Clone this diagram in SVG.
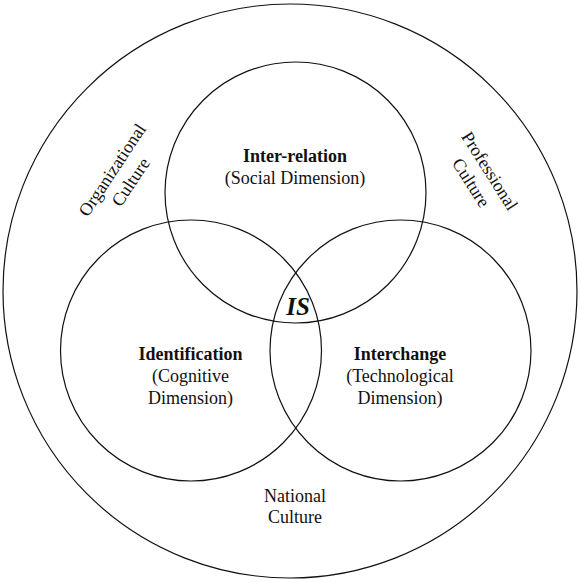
<svg xmlns="http://www.w3.org/2000/svg" width="580" height="582" viewBox="0 0 580 582">
<style>
.c{fill:none;stroke:#111;stroke-width:1.2}
text{font-family:"Liberation Serif","Times New Roman",serif;font-size:18px;fill:#111;text-anchor:middle}
.b{font-weight:bold}
.is{font-weight:bold;font-style:italic;font-size:25px}
</style>
<rect width="580" height="582" fill="#fff"/>
<g id="national">
<circle class="c" cx="290" cy="291" r="287"/>
<text x="295" y="502">National</text>
<text x="295" y="523">Culture</text>
</g>
<g id="organizational" transform="translate(117.3,173.2) rotate(-56.5)">
<text x="0" y="0">Organizational</text>
<text x="0" y="22">Culture</text>
</g>
<g id="professional" transform="translate(484.6,174.1) rotate(57.7)">
<text x="0" y="0">Professional</text>
<text x="0" y="22">Culture</text>
</g>
<g id="interrelation">
<circle class="c" cx="295.5" cy="192.5" r="130.5"/>
<text class="b" x="295" y="162">Inter-relation</text>
<text x="295" y="184">(Social Dimension)</text>
</g>
<g id="identification">
<circle class="c" cx="191" cy="350.5" r="130.5"/>
<text class="b" x="190.5" y="360">Identification</text>
<text x="190.5" y="382">(Cognitive</text>
<text x="190.5" y="404">Dimension)</text>
</g>
<g id="interchange">
<circle class="c" cx="400.5" cy="350.5" r="130.5"/>
<text class="b" x="400" y="360">Interchange</text>
<text x="400" y="382">(Technological</text>
<text x="400" y="404">Dimension)</text>
</g>
<g id="is">
<text class="is" x="298" y="315">IS</text>
</g>
</svg>
